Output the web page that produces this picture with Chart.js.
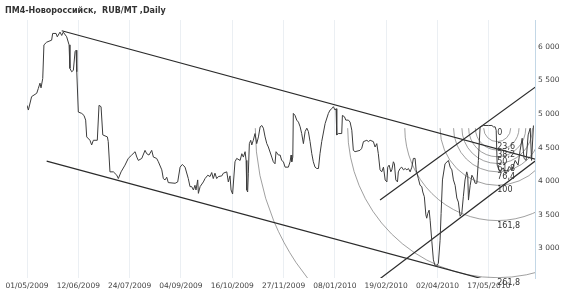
<!DOCTYPE html>
<html>
<head>
<meta charset="utf-8">
<script src="https://cdn.jsdelivr.net/npm/chart.js@4"></script>
<style>
html,body{margin:0;padding:0;background:#fff;}
canvas{display:block;}
</style>
</head>
<body>
<canvas id="c" width="570" height="300"></canvas>
<script>
// ---------- DATA ----------
const chartTitle = "ПМ4-Новороссийск,  RUB/MT ,Daily";

const dateLabels = ["01/05/2009","12/06/2009","24/07/2009","04/09/2009","16/10/2009",
                    "27/11/2009","08/01/2010","19/02/2010","02/04/2010","17/05/2010"];
const dateTickIndex = [0,30,60,90,120,150,180,210,240,270];

const yTicks = [3000,3500,4000,4500,5000,5500,6000];

// trading-day index of each vertex of the price line
const dayIndex = [
 0,0.8,2.7,5.7,6.6,7.6,8.2,9.2,9.9,11.5,14.4,15.0,17.0,17.7,19.3,20.3,21.2,23.2,24.6,25.1,
 26.1,27.1,28.1,28.7,29.1,30.0,32.0,33.3,34.3,34.9,36.8,37.8,38.8,41.1,42.1,43.3,44.3,47.0,47.5,48.5,
 50.5,52.5,53.4,55.0,57.3,59.2,61.2,63.2,64.2,65.1,67.1,69.0,70.0,71.3,72.9,73.9,75.8,76.8,78.8,79.7,
 80.7,81.7,82.6,86.6,88.1,89.5,90.8,92.4,94.3,95.3,96.3,97.3,98.2,98.8,99.8,100.2,101.2,103.1,104.1,105.7,
 107.0,108.0,108.9,109.9,110.9,111.9,113.9,114.8,116.8,117.7,118.7,119.3,120.2,121.6,122.6,124.6,125.6,126.5,127.5,128.1,
 128.5,129.0,129.4,130.0,130.8,131.4,132.3,133.3,134.3,135.3,136.3,137.3,138.2,139.2,140.2,141.1,143.1,144.0,145.0,145.6,
 147.0,148.0,148.9,149.9,150.9,152.8,153.8,154.4,154.8,155.4,155.7,156.7,157.7,158.7,159.7,160.6,161.6,162.6,163.6,164.5,
 165.5,166.5,167.4,168.4,169.4,170.4,171.3,172.3,174.3,176.2,177.2,178.2,179.1,180.1,180.7,181.1,182.0,184.0,184.4,185.6,
 186.4,187.9,188.9,189.9,190.8,191.8,194.7,195.7,196.7,198.7,199.6,200.6,202.5,203.5,204.5,205.4,206.4,207.4,208.4,209.4,
 210.4,210.9,211.7,212.7,213.3,214.2,214.8,215.6,216.6,217.1,218.1,219.1,220.1,221.1,222.1,223.0,224.0,225.0,225.9,226.9,
 227.5,228.8,229.8,230.8,231.4,232.3,233.2,233.7,234.3,235.1,235.7,236.7,237.6,238.6,239.6,240.5,241.5,242.1,242.9,244.4,
 246.4,247.4,248.4,249.3,250.3,251.3,252.2,253.2,254.2,255.1,256.1,257.1,257.7,258.1,259.1,260.1,261.0,262.0,263.0,263.9,
 264.9,266.8,269.8,271.8,272.7,273.7,274.3,274.9,276.6,278.4,280.1,281.9,283.6,285.4,287.1,288.3,289.5,290.6,291.8,293.0,
 294.2,295.0,296.1
];
// price (RUB/MT) at each vertex
const price = [
 5130,5060,5260,5310,5380,5460,5390,5530,6030,6070,6100,6200,6200,6150,6220,6170,6220,6150,6030,5680,
 5630,5650,5930,5950,5630,5030,5010,4980,4910,4660,4610,4540,4610,4610,5130,5110,4690,4660,4590,4140,
 4140,4090,4040,4140,4240,4340,4390,4440,4360,4310,4340,4460,4410,4390,4460,4360,4340,4290,4170,4040,
 4020,4060,3980,3970,3990,4210,4250,4210,4040,3920,3920,3870,3940,3870,4020,3820,3920,3990,4040,4090,
 4070,4130,4040,4120,4040,4070,4080,4120,4140,3990,4080,3870,3810,4290,4340,4310,4410,4360,4440,4310,
 3870,3840,4120,4560,4610,4540,4610,4710,4560,4660,4810,4830,4790,4660,4560,4510,4360,4290,4260,4440,
 4390,4390,4310,4290,4210,4210,4290,4390,4290,4360,5010,4980,4910,4880,4810,4710,4560,4740,4790,4740,
 4590,4410,4290,4210,4190,4190,4410,4590,4860,5010,5060,5080,5110,5060,5080,4690,4710,4710,4980,4960,
 4910,4910,4880,4760,4460,4440,4460,4490,4590,4610,4590,4610,4590,4510,4560,4410,4170,4140,4210,4020,
 3990,4210,4240,4140,4170,4290,4260,4020,3990,4140,4190,4210,4170,4190,4170,4190,4140,4210,4340,4340,
 4170,4040,3940,3920,3840,3770,3500,3450,3520,3570,3420,3100,2830,2740,2740,2780,3120,3520,4020,4260,
 4310,4210,4170,4020,3940,3750,3690,3480,3520,3770,4020,4140,4080,3720,3940,4090,4050,3970,3970,4310,
 4810,4830,4830,4830,4810,4810,4760,4240,4140,4200,4110,4220,4170,4310,4240,4460,4640,4340,4310,4690,
 4790,4310,4830
];

// trend lines: [dayIndex, price] end points
const downChannelUpper = [[20.3, 6240], [297.1, 4330]];
const downChannelLower = [[11.5, 4300], [265.9, 2550]];
const upChannelLower   = [[206.4, 2550], [297.1, 4300]];
const upChannelUpper   = [[206.4, 3720], [297.1, 5400]];

// Fibonacci arcs: centre (dayIndex, price), 100% size in price units, levels
const fibCenterDay = 274.9;
const fibCenterPrice = 4790;
const fibUnit = 850;
const fibLevels = [0, 23.6, 38.2, 50, 61.8, 76.4, 100, 161.8, 261.8, 423.6];
const fibLabels = ["0","23,6","38,2","50","61,8","76,4","100","161,8","261,8",""];

// ---------- CHART ----------
const FONT = "'DejaVu Sans', Verdana, sans-serif";
const toPts = arr => arr.map(p => ({x: p[0], y: p[1]}));
const lineDs = (pts) => ({
  data: toPts(pts), borderColor: '#2b2b2b', borderWidth: 1.2,
  pointRadius: 0, fill: false, tension: 0
});

const fibPlugin = {
  id: 'fibArcs',
  beforeDatasetsDraw(chart) {
    const {ctx, chartArea: a, scales: {x, y}} = chart;
    const cx = x.getPixelForValue(fibCenterDay);
    const cy = y.getPixelForValue(fibCenterPrice);
    ctx.save();
    ctx.beginPath();
    ctx.rect(a.left, a.top, a.right - a.left, a.bottom - a.top);
    ctx.clip();
    ctx.strokeStyle = 'rgba(120,120,120,0.7)';
    ctx.lineWidth = 1;
    fibLevels.forEach(l => {
      if (l === 0) return;
      const r = y.getPixelForValue(fibCenterPrice - l / 100 * fibUnit) - cy;
      ctx.beginPath();
      ctx.arc(cx, cy, r, 0, Math.PI);
      ctx.stroke();
    });
    ctx.restore();
  },
  afterDatasetsDraw(chart) {
    const {ctx, scales: {x, y}} = chart;
    const cx = x.getPixelForValue(fibCenterDay);
    const cy = y.getPixelForValue(fibCenterPrice);
    ctx.save();
    ctx.font = "8px " + FONT;
    ctx.fillStyle = '#333';
    ctx.textAlign = 'left';
    ctx.textBaseline = 'top';
    fibLevels.forEach((l, i) => {
      if (!fibLabels[i]) return;
      const r = y.getPixelForValue(fibCenterPrice - l / 100 * fibUnit) - cy;
      ctx.fillText(fibLabels[i], cx, cy + r + 1);
    });
    ctx.restore();
  }
};

const titlePlugin = {
  id: 'topTitle',
  afterDraw(chart) {
    const ctx = chart.ctx;
    ctx.save();
    ctx.font = "bold 8px " + FONT;
    ctx.fillStyle = '#333';
    ctx.textAlign = 'left';
    ctx.textBaseline = 'alphabetic';
    ctx.fillText(chartTitle, 5, 13);
    ctx.restore();
  }
};

new Chart(document.getElementById('c'), {
  type: 'line',
  data: {
    datasets: [
      {
        data: dayIndex.map((d, i) => ({x: d, y: price[i]})),
        borderColor: '#3c3c3c', borderWidth: 1, pointRadius: 0,
        fill: false, tension: 0
      },
      lineDs(downChannelUpper),
      lineDs(downChannelLower),
      lineDs(upChannelLower),
      lineDs(upChannelUpper)
    ]
  },
  options: {
    responsive: false,
    animation: false,
    devicePixelRatio: 1,
    layout: {padding: {left: 27, top: 20, right: 0, bottom: 0}},
    plugins: {legend: {display: false}, tooltip: {enabled: false}, title: {display: false}},
    scales: {
      x: {
        type: 'linear', min: 0, max: 297,
        afterBuildTicks: s => { s.ticks = dateTickIndex.map(v => ({value: v})); },
        afterFit: s => { s.height = 22; },
        ticks: {
          autoSkip: false, maxRotation: 0, padding: 4, color: '#444',
          font: {family: FONT, size: 7.5},
          callback: (v, i) => dateLabels[i]
        },
        grid: {color: '#ebeff3', lineWidth: 1, drawTicks: false},
        border: {display: false}
      },
      y: {
        type: 'linear', position: 'right', min: 2560, max: 6400,
        afterBuildTicks: s => { s.ticks = yTicks.map(v => ({value: v})); },
        afterFit: s => { s.width = 35; },
        ticks: {
          padding: 3, color: '#444',
          font: {family: FONT, size: 7.5},
          callback: v => String(v).replace(/\B(?=(\d{3})+(?!\d))/g, ' ')
        },
        grid: {display: false, drawTicks: false},
        border: {display: true, color: '#c3d7e6', width: 1}
      }
    }
  },
  plugins: [fibPlugin, titlePlugin]
});
</script>
</body>
</html>
